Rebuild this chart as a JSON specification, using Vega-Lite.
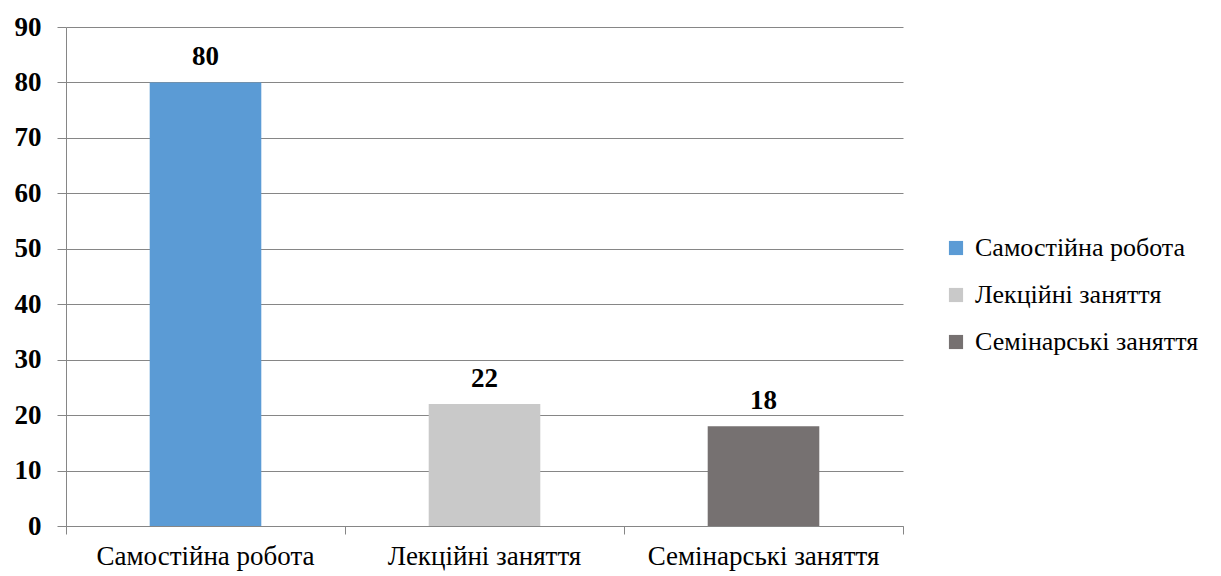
{
  "$schema": "https://vega.github.io/schema/vega-lite/v6.json",
  "autosize": {"type": "none"},
  "width": 837,
  "height": 499,
  "padding": {"left": 66, "top": 27, "right": 318, "bottom": 50},
  "background": "white",
  "config": {
    "view": {"stroke": null},
    "font": "'Liberation Serif', 'DejaVu Serif', serif"
  },
  "data": {
    "values": [
      {"category": "Самостійна робота", "value": 80},
      {"category": "Лекційні заняття", "value": 22},
      {"category": "Семінарські заняття", "value": 18}
    ]
  },
  "encoding": {
    "x": {
      "field": "category",
      "type": "nominal",
      "sort": null,
      "scale": {"paddingInner": 0, "paddingOuter": 0},
      "axis": {
        "title": null,
        "labelAngle": 0,
        "labelFont": "'Liberation Serif', 'DejaVu Serif', serif",
        "labelFontSize": 27,
        "labelColor": "black",
        "labelPadding": 9,
        "labelLimit": 400,
        "domainColor": "#868686",
        "tickColor": "#868686",
        "tickSize": 8,
        "bandPosition": 1,
        "tickExtra": true,
        "grid": false
      }
    },
    "y": {
      "field": "value",
      "type": "quantitative",
      "scale": {"domain": [0, 90], "nice": false},
      "axis": {
        "title": null,
        "values": [0, 10, 20, 30, 40, 50, 60, 70, 80, 90],
        "labelFont": "'Liberation Serif', 'DejaVu Serif', serif",
        "labelFontSize": 27,
        "labelFontWeight": "bold",
        "labelColor": "black",
        "labelPadding": 16,
        "tickSize": 9,
        "tickColor": "#868686",
        "domainColor": "#868686",
        "gridColor": "#868686",
        "gridWidth": 1,
        "grid": true
      }
    }
  },
  "layer": [
    {
      "mark": {"type": "bar", "width": {"band": 0.4}},
      "encoding": {
        "color": {
          "field": "category",
          "type": "nominal",
          "sort": null,
          "scale": {
            "domain": ["Самостійна робота", "Лекційні заняття", "Семінарські заняття"],
            "range": ["#5B9BD5", "#C9C9C9", "#767171"]
          },
          "legend": {
            "title": null,
            "orient": "none",
            "legendX": 877,
            "legendY": 208,
            "symbolType": "square",
            "symbolSize": 200,
            "symbolStrokeWidth": 0,
            "labelFont": "'Liberation Serif', 'DejaVu Serif', serif",
            "labelFontSize": 26,
            "labelColor": "black",
            "labelOffset": 6,
            "rowPadding": 21,
            "labelLimit": 400
          }
        }
      }
    },
    {
      "mark": {
        "type": "text",
        "baseline": "bottom",
        "dy": -11,
        "font": "'Liberation Serif', 'DejaVu Serif', serif",
        "fontSize": 27,
        "fontWeight": "bold",
        "color": "black"
      },
      "encoding": {"text": {"field": "value", "type": "quantitative"}}
    }
  ]
}
